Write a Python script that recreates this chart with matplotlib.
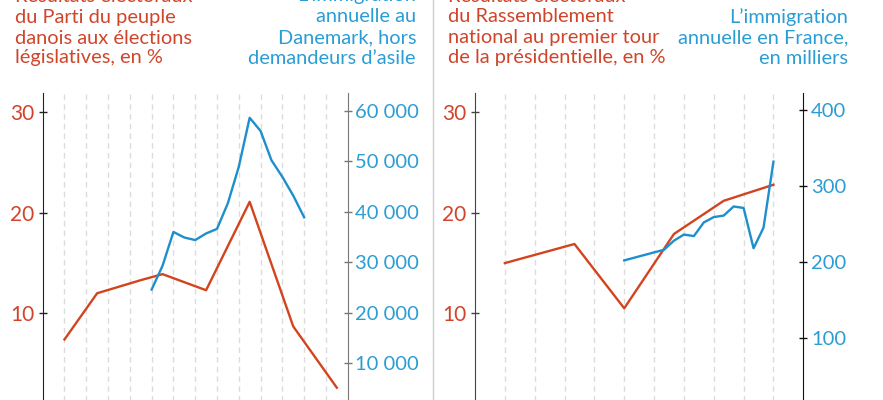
import matplotlib.pyplot as plt
from matplotlib.ticker import FuncFormatter

plt.rcParams['font.family'] = ['Lato', 'DejaVu Sans']

# --- Danemark ---
dk_vote_years = [1998, 2001, 2005, 2007, 2011, 2015, 2019, 2023]
dk_vote = [7.4, 12.0, 13.3, 13.9, 12.3, 21.1, 8.7, 2.6]
dk_immig_years = list(range(2006, 2021))
dk_immig = [24600, 29300, 36000, 34900, 34400, 35700, 36600, 41700,
            48900, 58600, 56000, 50200, 46900, 43200, 38900]
dk_grid = list(range(1998, 2023, 2))

# --- France ---
fr_vote_years = [1995, 2002, 2007, 2012, 2017, 2022]
fr_vote = [15.0, 16.9, 10.5, 17.9, 21.2, 22.8]
fr_immig_years = [2007, 2011, 2012, 2013, 2014, 2015, 2016, 2017, 2018, 2019, 2020, 2021, 2022]
fr_immig = [202, 216, 228, 236, 234, 252, 259, 261, 273, 271, 218, 245, 332]
fr_grid = list(range(1995, 2023, 3))

dk_red_title = ["Résultats électoraux", "du Parti du peuple", "danois aux élections", "législatives, en %"]
dk_blue_title = ["L’immigration", "annuelle au", "Danemark, hors", "demandeurs d’asile"]
fr_red_title = ["Résultats électoraux", "du Rassemblement", "national au premier tour", "de la présidentielle, en %"]
fr_blue_title = ["L’immigration", "annuelle en France,", "en milliers"]

RED = '#d2441e'
BLUE = '#1e8fcc'
RED_TXT = '#d0452a'
BLUE_TXT = '#2a9dd4'
W, H = 883, 400

fig = plt.figure(figsize=(W / 100, H / 100), dpi=100)


def px_axes(x0, x1, y_top, y_zero):
    return fig.add_axes([x0 / W, (H - y_zero) / H, (x1 - x0) / W, (y_zero - y_top) / H])


def style(ax, axb, grid, xlim, ymax_r, lticks, rticks, rfmt, lcol, rcol):
    ax.set_xlim(*xlim)
    ax.set_ylim(0, 31.9)
    axb.set_ylim(0, ymax_r)
    ax.set_xticks(grid)
    ax.grid(axis='x', color='#dcdcdc', lw=1, ls=(0, (4, 3)))
    ax.tick_params(axis='x', length=0, labelbottom=False)
    for a in (ax, axb):
        for s in ('top', 'bottom'):
            a.spines[s].set_visible(False)
    ax.spines['right'].set_visible(False)
    axb.spines['left'].set_visible(False)
    ax.spines['left'].set_color(lcol)
    axb.spines['right'].set_color(rcol)
    ax.set_yticks(lticks)
    ax.tick_params(axis='y', direction='inout', length=6, width=1, color=lcol,
                   labelcolor=RED_TXT, labelsize=15, pad=3)
    axb.set_yticks(rticks)
    axb.yaxis.set_major_formatter(FuncFormatter(rfmt))
    axb.tick_params(axis='y', direction='inout', length=6, width=1, color=rcol,
                    labelcolor=BLUE_TXT, labelsize=14.5, pad=2.5)
    ax.patch.set_visible(False)


# Panel Danemark
ax1 = px_axes(42.7, 347.7, 93.3, 413.8)
ax1b = ax1.twinx()
style(ax1, ax1b, dk_grid, (1996, 2024), 63450, [10, 20, 30],
      [10000, 20000, 30000, 40000, 50000, 60000],
      lambda v, p: f"{int(v):,}".replace(",", " "), '#222222', '#777777')
ax1.plot(dk_vote_years, dk_vote, color=RED, lw=1.7, zorder=3)
ax1b.plot(dk_immig_years, dk_immig, color=BLUE, lw=1.7, zorder=3)

# Panel France
ax2 = px_axes(475, 803.3, 93.3, 413.8)
ax2b = ax2.twinx()
style(ax2, ax2b, fr_grid, (1992, 2025), 422, [10, 20, 30],
      [100, 200, 300, 400], lambda v, p: f"{int(v)}", '#444444', '#111111')
ax2.plot(fr_vote_years, fr_vote, color=RED, lw=1.7, zorder=3)
ax2b.plot(fr_immig_years, fr_immig, color=BLUE, lw=1.7, zorder=3)

# separator
fig.add_artist(plt.Line2D([432.7 / W] * 2, [0, 1], color='#cfcfcf', lw=1))

# titles, one text per line (first line is cropped by the top edge, as in the source)
baselines = [1.5, 22.5, 43.5, 63.5]


def title(lines, x, ha, color):
    rows = baselines[-len(lines):]
    for line, y in zip(lines, rows):
        fig.text(x / W, (H - y) / H, line, ha=ha, va='baseline', color=color, fontsize=14.4)


title(dk_red_title, 15, 'left', RED_TXT)
title(dk_blue_title, 416, 'right', BLUE_TXT)
title(fr_red_title, 448, 'left', RED_TXT)
title(fr_blue_title, 848, 'right', BLUE_TXT)

fig.savefig('out.png', dpi=100)
